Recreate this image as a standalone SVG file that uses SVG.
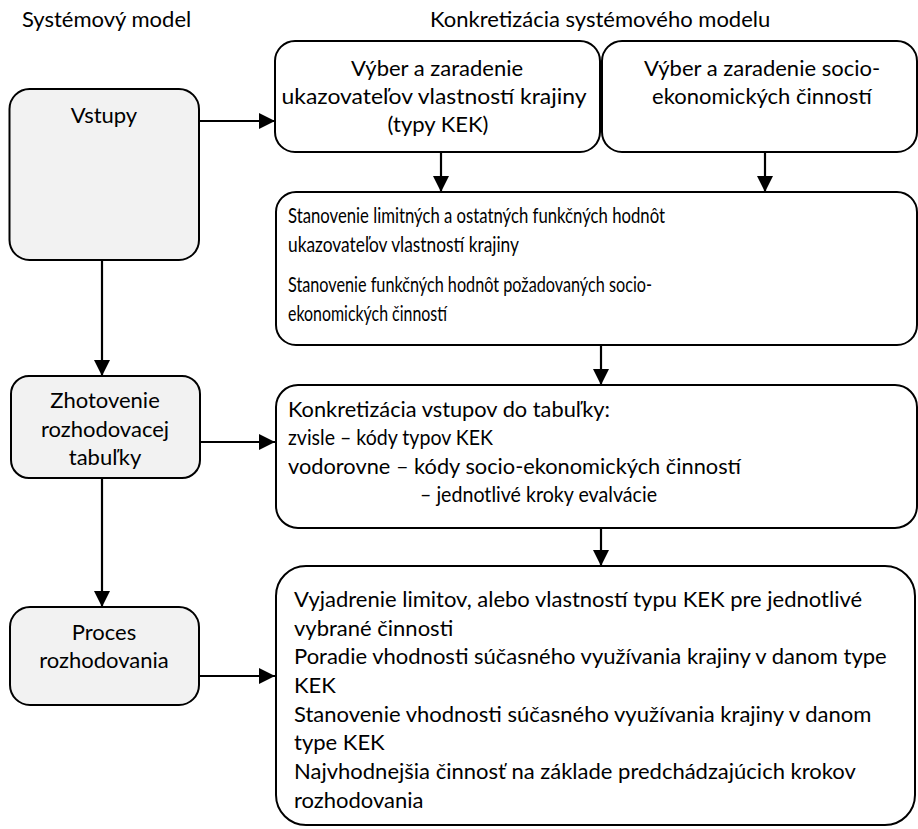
<svg xmlns="http://www.w3.org/2000/svg" width="918" height="829" viewBox="0 0 918 829">
  <style>
    .t { font-family: Lato, "Liberation Sans", sans-serif; font-size: 22px; fill: #000; }
    .c { text-anchor: middle; }
    .sys { fill: #f2f2f2; stroke: #000; stroke-width: 2; }
    .box { fill: #fff; stroke: #000; stroke-width: 2; }
    .edge { fill: none; stroke: #000; stroke-width: 2.2; marker-end: url(#arrow); }
  </style>
  <defs>
    <marker id="arrow" markerUnits="userSpaceOnUse" markerWidth="17" markerHeight="17" refX="16" refY="8" orient="auto">
      <path d="M0,0 L16,8 L0,16 Z" fill="#000"/>
    </marker>
  </defs>
  <rect width="918" height="829" fill="#fff"/>

  <!-- column headings -->
  <text class="t" x="22" y="27">Systémový model</text>
  <text class="t" x="430" y="27">Konkretizácia systémového modelu</text>

  <!-- system model (left column) -->
  <g id="vstupy">
    <rect class="sys" x="9.5" y="89" width="189.5" height="171" rx="20"/>
    <text class="t c" x="104" y="123">Vstupy</text>
  </g>
  <g id="zhotovenie">
    <rect class="sys" x="11" y="376" width="189" height="102" rx="18"/>
    <text class="t c" x="105" y="408">Zhotovenie</text>
    <text class="t c" x="105" y="437">rozhodovacej</text>
    <text class="t c" x="105" y="465">tabuľky</text>
  </g>
  <g id="proces">
    <rect class="sys" x="10" y="607" width="189" height="98" rx="20"/>
    <text class="t c" x="104" y="640">Proces</text>
    <text class="t c" x="104" y="668">rozhodovania</text>
  </g>

  <!-- concretisation (right column) -->
  <g id="vyber-ukazovatelov">
    <rect class="box" x="275" y="41" width="325" height="111" rx="20"/>
    <text class="t c" x="437" y="76">Výber a zaradenie</text>
    <text class="t c" x="434" y="104" textLength="305" lengthAdjust="spacingAndGlyphs">ukazovateľov vlastností krajiny</text>
    <text class="t c" x="438" y="132">(typy KEK)</text>
  </g>
  <g id="vyber-cinnosti">
    <rect class="box" x="602" y="41" width="315" height="111" rx="20"/>
    <text class="t c" x="762" y="76">Výber a zaradenie socio-</text>
    <text class="t c" x="762" y="104">ekonomických činností</text>
  </g>
  <g id="stanovenie">
    <rect class="box" x="276" y="192" width="641" height="153" rx="20"/>
    <text class="t" x="288" y="223" textLength="377" lengthAdjust="spacingAndGlyphs">Stanovenie limitných a ostatných funkčných hodnôt</text>
    <text class="t" x="288" y="252" textLength="231" lengthAdjust="spacingAndGlyphs">ukazovateľov vlastností krajiny</text>
    <text class="t" x="288" y="292" textLength="364" lengthAdjust="spacingAndGlyphs">Stanovenie funkčných hodnôt požadovaných socio-</text>
    <text class="t" x="288" y="321" textLength="159" lengthAdjust="spacingAndGlyphs">ekonomických činností</text>
  </g>
  <g id="konkretizacia">
    <rect class="box" x="276" y="385" width="641" height="143" rx="22"/>
    <text class="t" x="288" y="417" textLength="322" lengthAdjust="spacingAndGlyphs">Konkretizácia vstupov do tabuľky:</text>
    <text class="t" x="288" y="445" textLength="205" lengthAdjust="spacingAndGlyphs">zvisle – kódy typov KEK</text>
    <text class="t" x="288" y="474" textLength="453" lengthAdjust="spacingAndGlyphs">vodorovne – kódy socio-ekonomických činností</text>
    <text class="t" x="420" y="502" textLength="237" lengthAdjust="spacingAndGlyphs">– jednotlivé kroky evalvácie</text>
  </g>
  <g id="vyjadrenie">
    <rect class="box" x="276" y="566" width="639" height="259" rx="30"/>
    <text class="t" x="294" y="607">Vyjadrenie limitov, alebo vlastností typu KEK pre jednotlivé</text>
    <text class="t" x="294" y="636">vybrané činnosti</text>
    <text class="t" x="294" y="664">Poradie vhodnosti súčasného využívania krajiny v danom type</text>
    <text class="t" x="294" y="693">KEK</text>
    <text class="t" x="294" y="722">Stanovenie vhodnosti súčasného využívania krajiny v danom</text>
    <text class="t" x="294" y="750">type KEK</text>
    <text class="t" x="294" y="779">Najvhodnejšia činnosť na základe predchádzajúcich krokov</text>
    <text class="t" x="294" y="808">rozhodovania</text>
  </g>

  <!-- connectors -->
  <g id="connectors">
    <line class="edge" x1="199" y1="121" x2="275" y2="121"/>
    <line class="edge" x1="200" y1="442" x2="275" y2="442"/>
    <line class="edge" x1="199" y1="676" x2="275" y2="676"/>
    <line class="edge" x1="102" y1="260" x2="102" y2="376"/>
    <line class="edge" x1="102" y1="478" x2="102" y2="607"/>
    <line class="edge" x1="441" y1="152" x2="441" y2="192"/>
    <line class="edge" x1="765" y1="152" x2="765" y2="192"/>
    <line class="edge" x1="601" y1="345" x2="601" y2="385"/>
    <line class="edge" x1="601" y1="528" x2="601" y2="566"/>
  </g>
</svg>
